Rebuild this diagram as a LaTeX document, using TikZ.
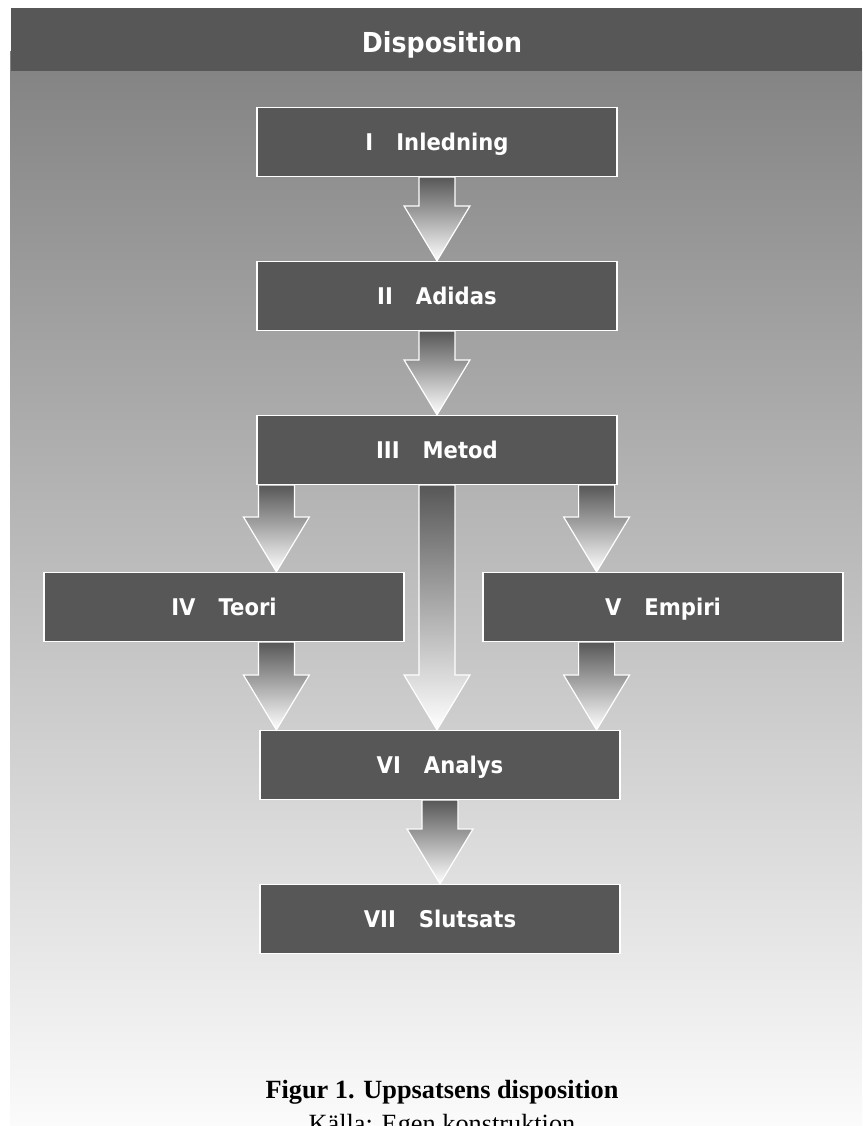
\documentclass[tikz,border=0pt]{standalone}
\usepackage{fontspec}
\usepackage{tikz}
\usetikzlibrary{positioning,calc}
\newfontfamily\boxfont[FakeStretch=0.92]{DejaVu Sans}
\newfontfamily\capfont{Liberation Serif}
\definecolor{boxgray}{HTML}{575757}
\definecolor{bgtop}{HTML}{828282}
\definecolor{bgbottom}{HTML}{FBFBFB}

% block arrow: #1 start of the shaft, #2 gives the height of the tip
\newcommand\flowarrow[2]{%
  \shade[blockarrow] let \p1=(#1), \p2=(#2) in
    (\x1-18pt,\y1) -- (\x1+18pt,\y1) -- (\x1+18pt,\y2+55pt) -- (\x1+33pt,\y2+55pt)
    -- (\x1,\y2) -- (\x1-33pt,\y2+55pt) -- (\x1-18pt,\y2+55pt) -- cycle;}

\begin{document}
\begin{tikzpicture}[x=1pt,y=-1pt,node distance=154pt,on grid,
    box/.style={draw=white,line width=1.2pt,fill=boxgray,text=white,
      minimum width=360pt,minimum height=69pt,inner sep=0pt,
      text height=16.8pt,text depth=0pt,
      font=\boxfont\bfseries\fontsize{23}{28}\selectfont},
    blockarrow/.style={draw=white,line width=1.2pt,line join=miter,
      top color=boxgray,bottom color=white}]
      \useasboundingbox (0,0) rectangle (862,1126);
      \shade[top color=bgtop,bottom color=bgbottom] (10,52) rectangle (862,1126);
      \fill[boxgray] (11,8) rectangle (862,71);
      \node[anchor=base,text=white,font=\boxfont\bfseries\fontsize{27.5}{33}\selectfont] (title) at (442,53) {Disposition};

      \node[box] (inl) at (437,142) {I\quad Inledning};
      \node[box,below=of inl] (adi) {II\quad Adidas};
      \node[box,below=of adi] (met) {III\quad Metod};
      \node[box,below left=157pt and 213pt of met] (teo) {IV\quad Teori};
      \node[box,below right=157pt and 226pt of met] (emp) {V\quad Empiri};
      \node[box,below=315pt of met,xshift=3pt] (ana) {VI\quad Analys};
      \node[box,below=of ana] (slu) {VII\quad Slutsats};

      \coordinate (lanel) at ($(met.south west)+(20pt,0pt)$);
      \coordinate (laner) at ($(met.south east)+(-21pt,0pt)$);

      \flowarrow{inl.south}{adi.north}
      \flowarrow{adi.south}{met.north}
      \flowarrow{lanel}{teo.north}
      \flowarrow{met.south}{ana.north}
      \flowarrow{laner}{emp.north}
      \flowarrow{lanel |- teo.south}{ana.north}
      \flowarrow{laner |- emp.south}{ana.north}
      \flowarrow{ana.south}{slu.north}

      \node[anchor=base,font=\capfont\bfseries\fontsize{26.3}{31}\selectfont] (cap) at (442,1098) {Figur 1. Uppsatsens disposition};
      \node[anchor=base,font=\capfont\fontsize{26.3}{31}\selectfont] (src) at (442,1132) {Källa: Egen konstruktion};
    \end{tikzpicture}
\end{document}
